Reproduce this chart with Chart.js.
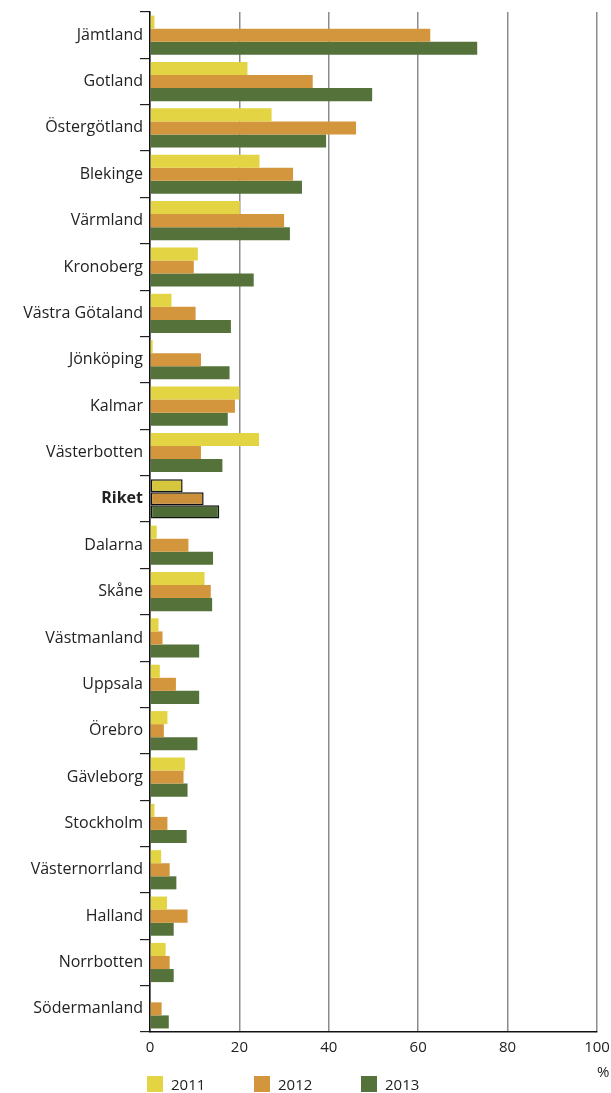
<!DOCTYPE html>
<html>
<head>
<meta charset="utf-8">
<script src="https://cdn.jsdelivr.net/npm/chart.js@4"></script>
<style>
    html, body { margin: 0; padding: 0; background: #fff; }
    .wrap { position: relative; width: 611px; height: 1093px; }
    .legend { position: absolute; left: 147px; top: 1076px; display: flex; font-family: 'Open Sans', sans-serif; font-size: 15px; color: #222; }
    .legend-item { width: 107px; display: flex; align-items: center; height: 16px; }
    .legend-item span.box { width: 16px; height: 16px; margin-right: 8px; }
    .unit { position: absolute; left: 597px; top: 1061px; font-family: 'Open Sans', sans-serif; font-size: 15px; color: #222; }
</style>
</head>
<body>
<div class="wrap">
    <canvas id="chart"></canvas>
    <div class="unit">%</div>
    <div class="legend" id="legend"></div>
</div>
<script>
    const regions = ['Jämtland', 'Gotland', 'Östergötland', 'Blekinge', 'Värmland', 'Kronoberg',
        'Västra Götaland', 'Jönköping', 'Kalmar', 'Västerbotten', 'Riket', 'Dalarna', 'Skåne',
        'Västmanland', 'Uppsala', 'Örebro', 'Gävleborg', 'Stockholm', 'Västernorrland',
        'Halland', 'Norrbotten', 'Södermanland'];
    const years = ['2011', '2012', '2013'];
    const values2011 = [1.0, 21.8, 27.2, 24.5, 20.1, 10.7, 4.8, 0.6, 20.0, 24.4, 7.3, 1.5, 12.2, 1.9, 2.2, 3.9, 7.8, 1.0, 2.5, 3.8, 3.5, 0];
    const values2012 = [62.7, 36.4, 46.1, 32.0, 30.0, 9.8, 10.2, 11.4, 19.0, 11.4, 12.0, 8.6, 13.6, 2.8, 5.8, 3.1, 7.5, 3.9, 4.4, 8.4, 4.4, 2.6];
    const values2013 = [73.2, 49.7, 39.4, 34.0, 31.3, 23.2, 18.1, 17.8, 17.4, 16.2, 15.5, 14.1, 13.9, 11.0, 11.0, 10.6, 8.4, 8.2, 5.9, 5.3, 5.3, 4.2];
    const xTicks = [0, 20, 40, 60, 80, 100];

    const colors = ['#e3d443', '#d4963c', '#55723b'];
    const totalColors = ['#d5c63b', '#cc8f3a', '#4f6c37'];
    const totalName = 'Riket';

    function makeDataset(label, data, i) {
        return {
            label: label,
            data: data,
            backgroundColor: regions.map(r => r === totalName ? totalColors[i] : colors[i]),
            borderColor: '#111',
            borderWidth: regions.map(r => r === totalName ? 1.5 : 0),
            borderSkipped: false,
            categoryPercentage: 0.845,
            barPercentage: 1.0
        };
    }

    const chart = new Chart(document.getElementById('chart'), {
        type: 'bar',
        data: {
            labels: regions,
            datasets: [
                makeDataset(years[0], values2011, 0),
                makeDataset(years[1], values2012, 1),
                makeDataset(years[2], values2013, 2)
            ]
        },
        options: {
            indexAxis: 'y',
            responsive: true,
            maintainAspectRatio: false,
            animation: false,
            layout: { padding: { top: 12, right: 14, bottom: 29, left: 0 } },
            plugins: {
                legend: { display: false },
                tooltip: { enabled: false }
            },
            scales: {
                x: {
                    min: 0,
                    max: 100,
                    afterBuildTicks: function(scale) {
                        scale.ticks = xTicks.map(v => ({ value: v }));
                    },
                    grid: { color: '#8c8c8c', lineWidth: 1.5, drawTicks: false },
                    border: { color: '#111', width: 1.5 },
                    ticks: {
                        padding: 0,
                        color: '#222',
                        font: { family: 'Open Sans', size: 15, lineHeight: 2.13 }
                    }
                },
                y: {
                    afterFit: function(scale) {
                        scale.width = 150;
                    },
                    grid: {
                        drawOnChartArea: false,
                        drawTicks: true,
                        tickLength: 10,
                        offset: true,
                        color: '#222',
                        lineWidth: 1.2
                    },
                    border: { color: '#111', width: 1.5 },
                    ticks: {
                        padding: -3,
                        color: '#222',
                        font: function(ctx) {
                            const bold = ctx.tick && ctx.tick.label === totalName;
                            return { family: 'Open Sans', size: 16, weight: bold ? 'bold' : 'normal' };
                        }
                    }
                }
            }
        }
    });

    // Legend below the plot
    const legend = document.getElementById('legend');
    years.forEach((y, i) => {
        const item = document.createElement('div');
        item.className = 'legend-item';
        const box = document.createElement('span');
        box.className = 'box';
        box.style.background = colors[i];
        const txt = document.createElement('span');
        txt.textContent = y;
        item.appendChild(box);
        item.appendChild(txt);
        legend.appendChild(item);
    });
</script>
</body>
</html>
